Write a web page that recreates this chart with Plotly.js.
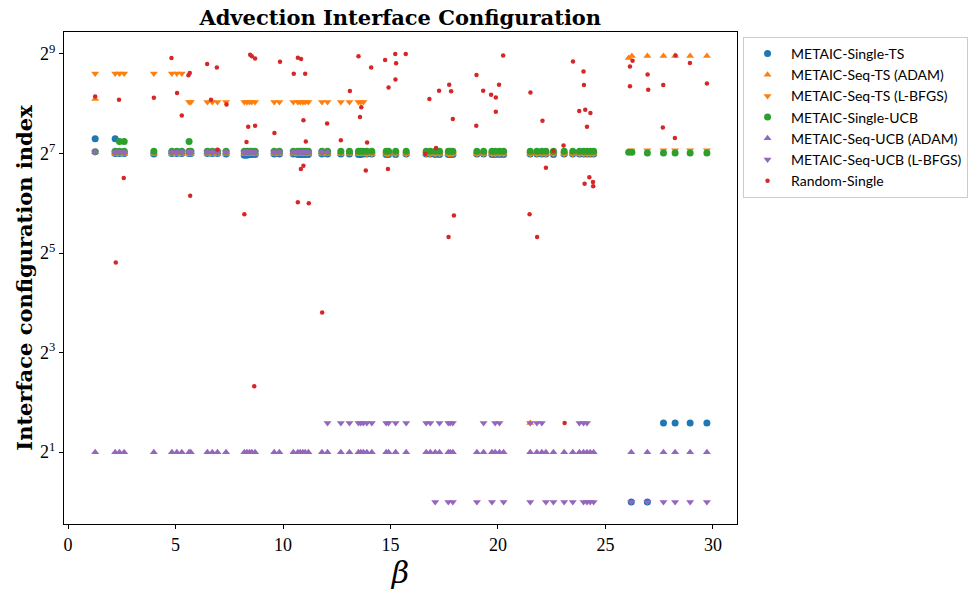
<!DOCTYPE html>
<html>
<head>
<meta charset="utf-8">
<script src="https://cdn.plot.ly/plotly-3.0.1.min.js"></script>
<style>html,body{margin:0;padding:0;background:#fff;}#chart{width:968px;height:590px;}</style>
</head>
<body>
<div id="chart"></div>
<script>
// ---- data (beta values and interface configuration indices) ----
const tsX = [1.26, 2.19, 2.19, 2.39, 2.61, 3.99, 4.83, 5.06, 5.29, 5.63, 5.71,
  6.48, 6.71, 6.95, 7.35, 8.2, 8.32, 8.44, 8.55, 8.7, 9.59,
  9.83, 10.48, 10.69, 10.8, 10.92, 11.03, 11.18, 11.81, 12.07, 12.69,
  13.09, 13.51, 13.62, 13.74, 13.9, 14.13, 14.8, 14.91, 15.24, 15.73,
  16.66, 16.85, 17.08, 17.28, 17.69, 17.78, 17.9, 19.02, 19.33, 19.72,
  19.87, 20.07, 20.26, 21.5, 21.81, 22.04, 22.23, 22.58, 23.08, 23.48,
  23.79, 23.98, 24.14, 24.29, 24.45, 26.2, 26.95, 27.7, 28.24, 28.94,
  29.72];
const tsY = [157, 157, 128, 128, 128, 127, 128, 128, 128, 128, 128,
  128, 128, 128, 127, 125, 125, 126, 126, 126, 127,
  127, 127, 126, 126, 126, 126, 126, 127, 127, 127,
  127, 126, 126, 127, 127, 127, 126, 126, 126, 127,
  127, 127, 126, 126, 126, 126, 126, 127, 127, 126,
  126, 126, 126, 127, 127, 127, 127, 126, 127, 127,
  127, 127, 127, 127, 127, 1, 1, 3, 3, 3,
  3];

const seqTsAdamX = [1.26, 2.19, 2.39, 2.61, 3.99, 4.83, 5.06, 5.29, 5.63, 5.71,
  6.48, 6.71, 6.95, 7.35, 8.2, 8.32, 8.44, 8.55, 8.7, 9.59,
  9.83, 10.48, 10.69, 10.8, 10.92, 11.03, 11.18, 11.81, 12.07, 12.69,
  13.09, 13.51, 13.62, 13.74, 13.9, 14.13, 14.8, 14.91, 15.24, 15.73,
  16.66, 16.85, 17.08, 17.28, 17.69, 17.78, 17.9, 19.02, 19.33, 19.72,
  19.87, 20.07, 20.26, 21.5, 21.5, 21.81, 22.04, 22.23, 22.58, 23.08,
  23.48, 23.79, 23.98, 24.14, 24.29, 24.45, 26.08, 26.23, 26.95, 27.7,
  28.24, 28.94, 29.72];
const seqTsAdamY = [273, 127, 127, 127, 127, 127, 127, 127, 127, 127,
  127, 127, 127, 127, 127, 127, 127, 127, 127, 127,
  127, 127, 127, 127, 127, 127, 127, 127, 127, 127,
  127, 127, 127, 127, 127, 127, 127, 127, 127, 127,
  127, 127, 127, 127, 127, 127, 127, 127, 127, 127,
  127, 127, 127, 127, 3, 127, 127, 127, 127, 127,
  127, 127, 127, 127, 127, 127, 484, 498, 498, 498,
  498, 498, 498];

const seqTsLbfgsX = [1.26, 2.19, 2.39, 2.61, 3.99, 4.83, 5.06, 5.29, 5.63, 5.71,
  6.48, 6.71, 6.95, 7.35, 8.2, 8.32, 8.44, 8.55, 8.7, 9.59,
  9.83, 10.48, 10.69, 10.8, 10.92, 11.03, 11.18, 11.81, 12.07, 12.69,
  13.09, 13.51, 13.62, 13.74, 13.9, 14.13, 14.8, 14.91, 15.24, 15.73,
  16.66, 16.85, 17.08, 17.28, 17.69, 17.78, 17.9, 19.02, 19.33, 19.72,
  19.87, 20.07, 20.26, 21.5, 21.81, 22.04, 22.23, 22.58, 23.08, 23.48,
  23.79, 23.98, 24.14, 24.29, 24.45, 26.2, 26.95, 27.7, 28.24, 28.94,
  29.72];
const seqTsLbfgsY = [390, 390, 390, 390, 390, 390, 390, 390, 262, 262,
  262, 262, 262, 262, 262, 262, 262, 262, 262, 262,
  262, 262, 262, 262, 262, 262, 262, 262, 262, 262,
  262, 262, 262, 262, 127, 127, 127, 127, 127, 127,
  127, 127, 127, 127, 127, 127, 127, 127, 127, 127,
  127, 127, 127, 127, 127, 127, 127, 127, 127, 127,
  127, 127, 127, 127, 127, 134, 134, 134, 134, 134,
  134];

const ucbX = [1.26, 2.19, 2.39, 2.61, 3.99, 4.83, 5.06, 5.29, 5.63, 5.71,
  6.48, 6.71, 6.95, 7.35, 8.2, 8.32, 8.44, 8.55, 8.7, 9.59,
  9.83, 10.48, 10.69, 10.8, 10.92, 11.03, 11.18, 11.81, 12.07, 12.69,
  13.09, 13.51, 13.62, 13.74, 13.9, 14.13, 14.8, 14.91, 15.24, 15.73,
  16.66, 16.85, 17.08, 17.28, 17.69, 17.78, 17.9, 19.02, 19.33, 19.72,
  19.87, 20.07, 20.26, 21.5, 21.81, 22.04, 22.23, 22.58, 23.08, 23.48,
  23.79, 23.98, 24.14, 24.29, 24.45, 2.39, 2.61, 5.63, 26.08, 26.23,
  26.95, 27.7, 28.24, 28.94, 29.72];
const ucbY = [131, 132, 132, 132, 132, 132, 132, 132, 132, 132,
  132, 132, 132, 132, 132, 132, 132, 132, 132, 132,
  132, 132, 132, 132, 132, 132, 132, 132, 132, 132,
  132, 132, 132, 132, 132, 132, 132, 132, 132, 132,
  132, 132, 132, 132, 132, 132, 132, 132, 132, 132,
  132, 132, 132, 132, 132, 132, 132, 132, 132, 132,
  132, 132, 132, 132, 132, 151, 151, 151, 130, 130,
  129, 129, 129, 129, 129];

const seqUcbAdamX = [1.26, 2.19, 2.39, 2.61, 3.99, 4.83, 5.06, 5.29, 5.63, 5.71,
  6.48, 6.71, 6.95, 7.35, 8.2, 8.32, 8.44, 8.55, 8.7, 9.59,
  9.83, 10.48, 10.69, 10.8, 10.92, 11.03, 11.18, 11.81, 12.07, 12.69,
  13.09, 13.51, 13.62, 13.74, 13.9, 14.13, 14.8, 14.91, 15.24, 15.73,
  16.66, 16.85, 17.08, 17.28, 17.69, 17.78, 17.9, 19.02, 19.33, 19.72,
  19.87, 20.07, 20.26, 21.5, 21.81, 22.04, 22.23, 22.58, 23.08, 23.48,
  23.79, 23.98, 24.14, 24.29, 24.45, 26.2, 26.95, 27.7, 28.24, 28.94,
  29.72,
  1.26, 2.19, 2.39, 2.61, 4.83, 5.06, 5.29, 5.63, 5.71,
  6.48, 6.71, 6.95, 7.35, 8.2, 8.32, 8.44, 8.55, 8.7, 9.59,
  9.83, 10.48, 10.69, 10.8, 10.92, 11.03, 11.18, 11.81, 12.07];
const seqUcbAdamY = [2, 2, 2, 2, 2, 2, 2, 2, 2, 2,
  2, 2, 2, 2, 2, 2, 2, 2, 2, 2,
  2, 2, 2, 2, 2, 2, 2, 2, 2, 2,
  2, 2, 2, 2, 2, 2, 2, 2, 2, 2,
  2, 2, 2, 2, 2, 2, 2, 2, 2, 2,
  2, 2, 2, 2, 2, 2, 2, 2, 2, 2,
  2, 2, 2, 2, 2, 2, 2, 2, 2, 2,
  2,
  130, 130, 130, 130, 130, 130, 130, 130, 130,
  130, 130, 130, 130, 130, 130, 130, 130, 130, 130,
  130, 130, 130, 130, 130, 130, 130, 130, 130];

const seqUcbLbfgsX = [1.26, 2.19, 2.39, 2.61, 4.83, 5.06, 5.29, 5.63, 5.71,
  6.48, 6.71, 6.95, 7.35, 8.2, 8.32, 8.44, 8.55, 8.7, 9.59,
  9.83, 10.48, 10.69, 10.8, 10.92, 11.03, 11.18, 11.81,
  12.07, 12.69, 13.09, 13.51, 13.62, 13.74, 13.9, 14.13, 14.8, 14.91,
  15.24, 15.73, 16.66, 16.85, 17.28, 17.69, 17.78, 17.9, 19.33, 19.87,
  20.07, 21.5, 21.81, 22.04, 23.79, 23.98, 24.14,
  17.08, 17.69, 17.9, 19.02, 19.72, 20.26, 21.5, 22.23, 22.58, 23.08,
  23.48, 23.98, 24.14, 24.29, 24.45, 26.2, 26.95, 27.7, 28.24, 28.94,
  29.72];
const seqUcbLbfgsY = [130, 130, 130, 130, 130, 130, 130, 130, 130,
  130, 130, 130, 130, 130, 130, 130, 130, 130, 130,
  130, 130, 130, 130, 130, 130, 130, 130,
  3, 3, 3, 3, 3, 3, 3, 3, 3, 3,
  3, 3, 3, 3, 3, 3, 3, 3, 3, 3,
  3, 3, 3, 3, 3, 3, 3,
  1, 1, 1, 1, 1, 1, 1, 1, 1, 1,
  1, 1, 1, 1, 1, 1, 1, 1, 1, 1,
  1];

const randX = [1.26, 2.37, 2.59, 2.22, 3.99, 4.81, 5.07, 5.29, 5.60, 5.66,
  5.68, 6.47, 6.65, 6.92, 6.95, 7.37, 8.20, 8.30, 8.38, 8.47,
  8.55, 8.70, 8.70, 8.66, 9.60, 9.86, 10.50, 10.69, 10.84, 10.69,
  10.83, 10.95, 11.20, 10.95, 11.03, 11.06, 11.82, 12.05, 12.69, 13.11,
  13.51, 13.58, 13.64, 13.85, 13.91, 14.10, 14.75, 14.88, 14.91, 15.22,
  15.26, 15.23, 15.71, 16.62, 16.81, 17.12, 17.26, 17.73, 17.82, 17.90,
  17.95, 17.70, 19.00, 18.99, 19.31, 19.68, 19.90, 19.90, 20.05, 20.24,
  21.47, 21.82, 21.51, 22.07, 22.23, 22.57, 23.05, 23.10, 23.49, 23.98,
  24.00, 23.78, 24.06, 24.30, 24.14, 24.25, 24.03, 24.42, 24.43, 26.26,
  26.14, 26.14, 26.96, 26.99, 27.69, 27.67, 28.23, 28.26, 28.93, 29.72];
const randY = [283, 270, 91, 28, 278, 484, 297, 217, 380, 392,
  71, 445, 270, 423, 135, 253, 55, 150, 186, 506,
  495, 481, 188, 5, 170, 459, 389, 486, 477, 65,
  103, 108, 64, 203, 389, 151, 14, 194, 154, 305,
  495, 213, 244, 101, 149, 423, 470, 103, 321, 512,
  449, 359, 511, 127, 273, 138, 307, 333, 304, 207,
  54, 40, 382, 188, 307, 290, 279, 229, 333, 500,
  55, 40, 299, 202, 105, 133, 143, 3, 461, 401,
  332, 231, 235, 225, 186, 92, 84, 86, 81, 466,
  430, 326, 385, 311, 332, 184, 159, 500, 451, 339];

const seriesNames = ['METAIC-Single-TS', 'METAIC-Seq-TS (ADAM)', 'METAIC-Seq-TS (L-BFGS)',
  'METAIC-Single-UCB', 'METAIC-Seq-UCB (ADAM)', 'METAIC-Seq-UCB (L-BFGS)', 'Random-Single'];
const xTickVals = [0, 5, 10, 15, 20, 25, 30];
const yTickVals = [2, 8, 32, 128, 512];
const yTickText = ['2<sup>1</sup>', '2<sup>3</sup>', '2<sup>5</sup>', '2<sup>7</sup>', '2<sup>9</sup>'];

// ---- traces ----
function sc(x, y, name, color, symbol, size) {
  return {type: 'scatter', mode: 'markers', x: x, y: y, name: name,
    marker: {color: color, symbol: symbol, size: size, line: {width: 0}}};
}
const traces = [
  sc(tsX, tsY, seriesNames[0], '#1f77b4', 'circle', 7),
  sc(seqTsAdamX, seqTsAdamY, seriesNames[1], '#ff7f0e', 'triangle-up', 7),
  sc(seqTsLbfgsX, seqTsLbfgsY, seriesNames[2], '#ff7f0e', 'triangle-down', 7),
  sc(ucbX, ucbY, seriesNames[3], '#2ca02c', 'circle', 7),
  sc(seqUcbAdamX, seqUcbAdamY, seriesNames[4], '#9467bd', 'triangle-up', 7),
  sc(seqUcbLbfgsX, seqUcbLbfgsY, seriesNames[5], '#9467bd', 'triangle-down', 7),
  sc(randX, randY, seriesNames[6], '#d62728', 'circle', 4.5)
];

const log2 = v => Math.log10(Math.pow(2, v));
const layout = {
  width: 968, height: 590,
  paper_bgcolor: '#ffffff', plot_bgcolor: '#ffffff',
  margin: {l: 64, r: 231, t: 32, b: 66, pad: 0, autoexpand: false},
  title: {text: '<b>Advection Interface Configuration</b>', x: 0.4135, xanchor: 'center', y: 0.970, yanchor: 'middle',
    font: {family: 'DejaVu Serif', size: 21, color: '#000'}},
  showlegend: true,
  legend: {x: 1.009, y: 0.99, xanchor: 'left', yanchor: 'top', bgcolor: '#ffffff',
    bordercolor: '#cccccc', borderwidth: 1, font: {family: 'Lato', size: 14, color: '#000'},
    tracegroupgap: 0, itemwidth: 37},
  xaxis: {range: [-0.19, 31.12], tickvals: xTickVals, ticks: 'outside', ticklen: 4, tickwidth: 1,
    tickcolor: '#000', showline: true, mirror: true, linecolor: '#000', linewidth: 1.2,
    showgrid: false, zeroline: false, automargin: false,
    tickfont: {family: 'Liberation Serif', size: 18, color: '#000'},
    title: {text: '<i>β</i>', font: {family: 'DejaVu Serif', size: 30, color: '#000'}, standoff: 0}},
  yaxis: {type: 'log', range: [log2(-0.443), log2(9.44)], tickvals: yTickVals, ticktext: yTickText,
    ticks: 'outside', ticklen: 4, tickwidth: 1, tickcolor: '#000', showline: true, mirror: true,
    linecolor: '#000', linewidth: 1.2, showgrid: false, zeroline: false, automargin: false,
    tickfont: {family: 'Liberation Serif', size: 18, color: '#000'},
    title: {text: '<b>Interface configuration index</b>', font: {family: 'DejaVu Serif', size: 21, color: '#000'}, standoff: 1}}
};
Plotly.newPlot('chart', traces, layout, {displayModeBar: false, staticPlot: true});
</script>
</body>
</html>
